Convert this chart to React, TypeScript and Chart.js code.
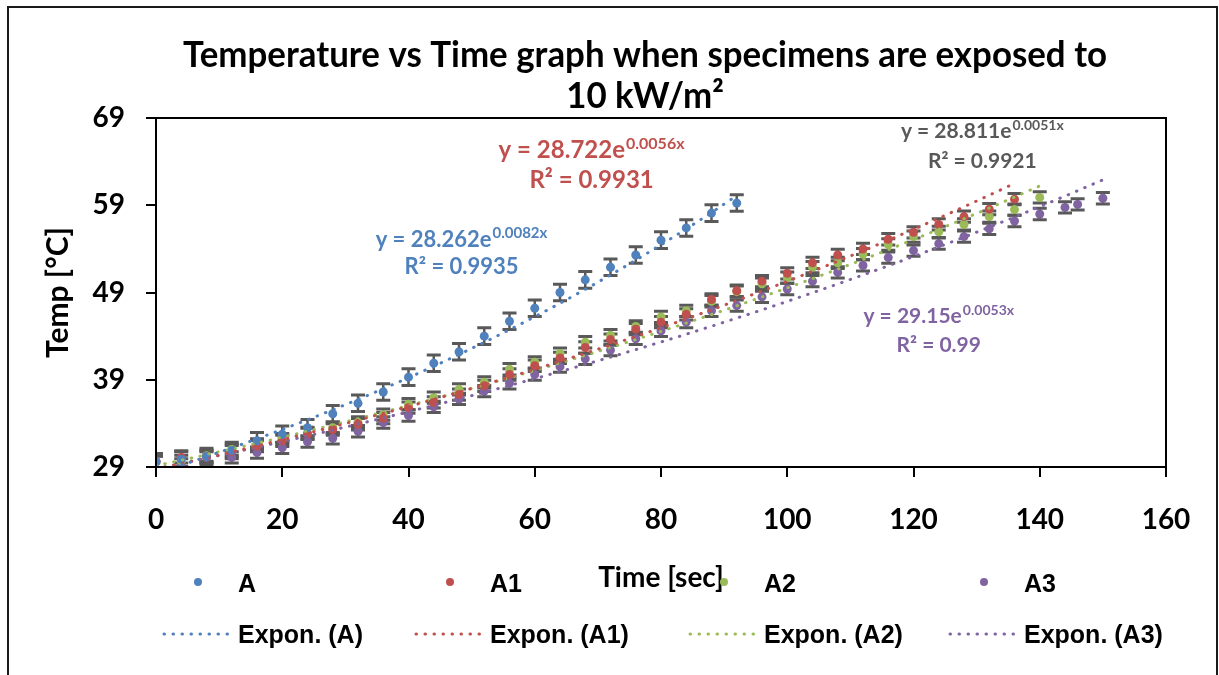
import React, { useEffect, useRef } from 'react';
import { Chart, registerables } from 'chart.js';

Chart.register(...registerables);

// ---------- data ----------
const timesA = [0, 4, 8, 12, 16, 20, 24, 28, 32, 36, 40, 44, 48, 52, 56, 60, 64, 68, 72, 76, 80, 84, 88, 92];
const tempA = [29.6, 29.9, 30.2, 30.9, 32.0, 32.75, 33.5, 35.1, 36.3, 37.6, 39.3, 40.9, 42.2, 44.0, 45.7, 47.2, 49.0, 50.45, 51.9, 53.3, 55.0, 56.4, 58.1, 59.25];

const timesA1 = [0, 4, 8, 12, 16, 20, 24, 28, 32, 36, 40, 44, 48, 52, 56, 60, 64, 68, 72, 76, 80, 84, 88, 92, 96, 100, 104, 108, 112, 116, 120, 124, 128, 132, 136];
const tempA1 = [29.6, 30.1, 30.2, 30.8, 31.4, 32.0, 32.8, 33.3, 33.9, 34.6, 35.8, 36.4, 37.3, 38.3, 39.6, 40.6, 41.5, 42.7, 43.6, 44.8, 45.6, 46.5, 48.2, 49.2, 50.3, 51.2, 52.4, 53.3, 54.0, 55.1, 55.9, 56.8, 57.7, 58.55, 59.7];

const timesA2 = [0, 4, 8, 12, 16, 20, 24, 28, 32, 36, 40, 44, 48, 52, 56, 60, 64, 68, 72, 76, 80, 84, 88, 92, 96, 100, 104, 108, 112, 116, 120, 124, 128, 132, 136, 140];
const tempA2 = [29.6, 29.7, 30.3, 31.0, 31.6, 32.2, 32.9, 33.5, 34.1, 35.0, 36.2, 36.95, 37.9, 38.7, 40.2, 41.0, 42.0, 43.3, 44.1, 45.1, 46.2, 46.9, 48.0, 49.1, 50.0, 50.7, 51.9, 52.4, 53.4, 54.5, 55.4, 55.95, 56.8, 57.7, 58.5, 59.9];

const timesA3 = [0, 4, 8, 12, 16, 20, 24, 28, 32, 36, 40, 44, 48, 52, 56, 60, 64, 68, 72, 76, 80, 84, 88, 92, 96, 100, 104, 108, 112, 116, 120, 124, 128, 132, 136, 140, 144, 146, 150];
const tempA3 = [29.6, 29.3, 30.1, 30.1, 30.65, 31.2, 31.9, 32.3, 33.1, 34.1, 34.9, 35.9, 36.8, 37.7, 38.6, 39.6, 40.5, 41.4, 42.4, 43.7, 44.6, 45.6, 46.9, 47.5, 48.5, 49.4, 50.3, 51.3, 52.1, 53.0, 53.8, 54.6, 55.4, 56.3, 57.2, 58.0, 58.75, 59.1, 59.8];

// fixed-value error bars (± °C)
const errA = 0.95;
const errA1 = 0.65;
const errA2 = 0.65;
const errA3 = 0.65;

// exponential trendline coefficients y = a·e^(b·x), as printed on the chart
const trendA = [28.262, 0.0082];
const trendA1 = [28.722, 0.0056];
const trendA2 = [29.15, 0.0053];
const trendA3 = [28.811, 0.0051];

const seriesNames = ['A', 'A1', 'A2', 'A3'];
const trendNames = ['Expon. (A)', 'Expon. (A1)', 'Expon. (A2)', 'Expon. (A3)'];

const eqMain = ['y = 28.262e', 'y = 28.722e', 'y = 28.811e', 'y = 29.15e'];
const eqSup = ['0.0082x', '0.0056x', '0.0051x', '0.0053x'];
const eqR2 = ['R² = 0.9935', 'R² = 0.9931', 'R² = 0.9921', 'R² = 0.99'];

const titleLines = ['Temperature vs Time graph when specimens are exposed to', '10 kW/m²'];
const xTitle = 'Time [sec]';
const yTitle = 'Temp [°C]';

const xMin = 0, xMax = 160, xStep = 20;
const yMin = 29, yMax = 69, yStep = 10;

// ---------- styles ----------
const COLORS = ['#4f81bd', '#c0504d', '#9bbb59', '#8064a2'];
const ERR_COLOR = '#595959';
const FONT = 'Lato';

const toPoints = (xs: number[], ys: number[]) => xs.map((x, i) => ({ x, y: ys[i] }));
const trendPoints = (xs: number[], c: number[]) => xs.map((x) => ({ x, y: c[0] * Math.exp(c[1] * x) }));

const seriesTimes = [timesA, timesA1, timesA2, timesA3];
const seriesTemps = [tempA, tempA1, tempA2, tempA3];
const seriesErr = [errA, errA1, errA2, errA3];
const seriesTrend = [trendA, trendA1, trendA2, trendA3];

// annotation placement (data coordinates) and look
const annotations = [
  { color: '#4f81bd', x: 48.4, y1: 54.25, y2: 51.09, size: 22 },
  { color: '#c0504d', x: 69.0, y1: 64.4, y2: 60.95, size: 24 },
  { color: '#595959', x: 130.9, y1: 66.67, y2: 63.23, size: 21 },
  { color: '#8064a2', x: 124.0, y1: 45.47, y2: 42.21, size: 21 },
];

const errorBarPlugin = {
  id: 'errorBars',
  beforeDatasetsDraw(chart: any) {
    const { ctx, chartArea, scales } = chart;
    const xs = scales.x, ys = scales.y;
    ctx.save();
    ctx.beginPath();
    ctx.rect(chartArea.left, chartArea.top, chartArea.right - chartArea.left, chartArea.bottom - chartArea.top);
    ctx.clip();
    ctx.strokeStyle = ERR_COLOR;
    chart.data.datasets.forEach((ds: any) => {
      if (ds.errValue == null) return;
      ds.data.forEach((p: any) => {
        const px = xs.getPixelForValue(p.x);
        const yt = ys.getPixelForValue(p.y + ds.errValue);
        const yb = ys.getPixelForValue(p.y - ds.errValue);
        ctx.lineWidth = 2.5;
        ctx.beginPath();
        ctx.moveTo(px, yt);
        ctx.lineTo(px, yb);
        ctx.stroke();
        ctx.lineWidth = 3;
        ctx.beginPath();
        ctx.moveTo(px - 7, yt);
        ctx.lineTo(px + 7, yt);
        ctx.moveTo(px - 7, yb);
        ctx.lineTo(px + 7, yb);
        ctx.stroke();
      });
    });
    ctx.restore();
  },
};

const annotationPlugin = {
  id: 'eqLabels',
  afterDatasetsDraw(chart: any) {
    const { ctx, scales } = chart;
    ctx.save();
    annotations.forEach((a, i) => {
      const cx = scales.x.getPixelForValue(a.x);
      const b1 = scales.y.getPixelForValue(a.y1);
      const b2 = scales.y.getPixelForValue(a.y2);
      const mainFont = `bold ${a.size}px ${FONT}`;
      const supSize = Math.round(a.size * 0.67);
      const supFont = `bold ${supSize}px ${FONT}`;
      ctx.fillStyle = a.color;
      ctx.textBaseline = 'alphabetic';
      ctx.font = mainFont;
      const w1 = ctx.measureText(eqMain[i]).width;
      ctx.font = supFont;
      const w2 = ctx.measureText(eqSup[i]).width;
      const start = cx - (w1 + w2 + 1) / 2;
      ctx.textAlign = 'left';
      ctx.font = mainFont;
      ctx.fillText(eqMain[i], start, b1);
      ctx.font = supFont;
      ctx.fillText(eqSup[i], start + w1 + 1, b1 - a.size * 0.38);
      ctx.font = mainFont;
      ctx.textAlign = 'center';
      ctx.fillText(eqR2[i], cx, b2);
    });
    ctx.restore();
  },
};

const framePlugin = {
  id: 'frames',
  afterDraw(chart: any) {
    const { ctx, chartArea } = chart;
    ctx.save();
    ctx.strokeStyle = '#000';
    ctx.lineWidth = 2;
    ctx.strokeRect(chartArea.left, chartArea.top, chartArea.right - chartArea.left, chartArea.bottom - chartArea.top);
    ctx.strokeStyle = '#1a1a1a';
    ctx.strokeRect(8, 7, chart.width - 10, chart.height + 20);
    ctx.restore();
  },
};

const titlePlugin = {
  id: 'bigTitle',
  afterDraw(chart: any) {
    const { ctx } = chart;
    ctx.save();
    ctx.fillStyle = '#000';
    ctx.font = `bold 36px ${FONT}`;
    ctx.textBaseline = 'alphabetic';
    ctx.textAlign = 'center';
    const w = ctx.measureText(titleLines[0]).width;
    const sx = 924 / w;
    const cx = 645;
    const baselines = [67, 108];
    titleLines.forEach((t, i) => {
      ctx.save();
      ctx.translate(cx, baselines[i]);
      ctx.scale(sx, 1);
      ctx.fillText(t, 0, 0);
      ctx.restore();
    });
    ctx.restore();
  },
};

const legendPlugin = {
  id: 'customLegend',
  afterDraw(chart: any) {
    const { ctx } = chart;
    const textX = [238, 490, 764, 1024];
    ctx.save();
    ctx.font = `bold 25px "Liberation Sans", Arial, sans-serif`;
    ctx.fillStyle = '#000';
    ctx.textAlign = 'left';
    ctx.textBaseline = 'alphabetic';
    for (let i = 0; i < 4; i++) {
      const tx = textX[i];
      ctx.fillStyle = COLORS[i];
      ctx.beginPath();
      ctx.arc(tx - 40, 582, 4, 0, Math.PI * 2);
      ctx.fill();
      ctx.fillStyle = '#000';
      ctx.fillText(seriesNames[i], tx, 592);
      ctx.strokeStyle = COLORS[i];
      ctx.lineWidth = 3;
      ctx.lineCap = 'round';
      ctx.setLineDash([0.5, 8.5]);
      ctx.beginPath();
      ctx.moveTo(tx - 74, 634);
      ctx.lineTo(tx - 10, 634);
      ctx.stroke();
      ctx.setLineDash([]);
      ctx.fillText(trendNames[i], tx, 643);
    }
    ctx.restore();
  },
};

export default function App() {
  const ref = useRef<HTMLCanvasElement>(null);

  useEffect(() => {
    const scatterSets = seriesNames.map((name, i) => ({
      label: name,
      data: toPoints(seriesTimes[i], seriesTemps[i]),
      showLine: false,
      pointRadius: 4.5,
      pointBorderWidth: 0,
      pointBackgroundColor: COLORS[i],
      pointBorderColor: COLORS[i],
      backgroundColor: COLORS[i],
      borderColor: COLORS[i],
      errValue: seriesErr[i],
      order: 1,
    }));
    const trendSets = trendNames.map((name, i) => ({
      label: name,
      data: trendPoints(seriesTimes[i], seriesTrend[i]),
      showLine: true,
      pointRadius: 0,
      borderColor: COLORS[i],
      borderWidth: 3,
      borderDash: [0.5, 8.5],
      borderCapStyle: 'round',
      fill: false,
      tension: 0,
      order: 0,
    }));

    const chart = new Chart(ref.current as HTMLCanvasElement, {
      type: 'scatter',
      data: { datasets: [...scatterSets, ...trendSets] as any },
      plugins: [errorBarPlugin, annotationPlugin, framePlugin, titlePlugin, legendPlugin],
      options: {
        animation: false,
        responsive: false,
        devicePixelRatio: 1,
        events: [],
        layout: { padding: { left: 0, right: 53, top: 118, bottom: 0 } },
        plugins: {
          legend: { display: false },
          title: { display: false },
          tooltip: { enabled: false },
        },
        scales: {
          x: {
            type: 'linear',
            min: xMin,
            max: xMax,
            afterFit: (s: any) => { s.height = 208; },
            ticks: {
              stepSize: xStep,
              color: '#000',
              padding: 26,
              font: { family: FONT, weight: 'bold', size: 28 },
              maxRotation: 0,
            },
            grid: { display: true, drawOnChartArea: false, drawTicks: true, tickLength: 10, color: '#000', lineWidth: 2 },
            border: { display: true, color: '#000', width: 2 },
            title: {
              display: true,
              text: xTitle,
              color: '#000',
              font: { family: FONT, weight: 'bold', size: 28, lineHeight: 1.2 },
              padding: { top: 0, bottom: 80 },
            },
          },
          y: {
            type: 'linear',
            min: yMin,
            max: yMax,
            afterFit: (s: any) => { s.width = 156; },
            ticks: {
              stepSize: yStep,
              color: '#000',
              padding: 21,
              font: { family: FONT, weight: 'bold', size: 28 },
            },
            grid: { display: true, drawOnChartArea: false, drawTicks: true, tickLength: 10, color: '#000', lineWidth: 2 },
            border: { display: true, color: '#000', width: 2 },
            title: {
              display: true,
              text: yTitle,
              color: '#000',
              font: { family: FONT, weight: 'bold', size: 30, lineHeight: 1.2 },
              padding: { top: 40, bottom: 0 },
            },
          },
        },
      } as any,
    });
    return () => chart.destroy();
  }, []);

  return (
    <div style={{ position: 'absolute', left: 0, top: 0, width: 1219, height: 675, background: '#fff' }}>
      <canvas ref={ref} width={1219} height={675} style={{ width: 1219, height: 675, display: 'block' }} />
    </div>
  );
}
